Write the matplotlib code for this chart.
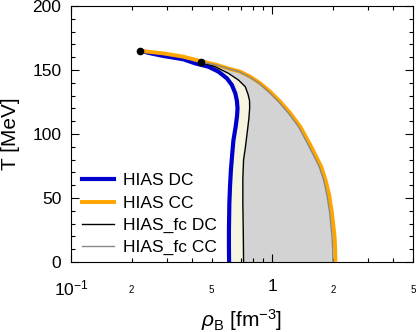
import numpy as np
import matplotlib
matplotlib.use('Agg')
import matplotlib.pyplot as plt
from matplotlib.ticker import FixedLocator, NullFormatter, MultipleLocator

plt.rcParams['font.family'] = ['Liberation Sans', 'DejaVu Sans']
plt.rcParams['mathtext.fontset'] = 'custom'
plt.rcParams['mathtext.rm'] = 'Liberation Sans'
plt.rcParams['mathtext.it'] = 'Liberation Sans:italic'

# HIAS DC (blue)
T_dc = [0, 12, 25, 46, 60, 72, 84, 95, 106, 114, 120, 126, 131.8, 138.3, 143.5, 148.7, 152.6, 155.2, 158.4, 161, 163, 165]
rho_dc = [0.61, 0.609, 0.609, 0.612, 0.617, 0.623, 0.632, 0.641, 0.658, 0.668, 0.672, 0.667, 0.655, 0.630,
          0.595, 0.541, 0.482, 0.414, 0.362, 0.288, 0.25, 0.221]
# HIAS CC (orange)
T_cc = [0, 10, 20, 38, 52, 64, 74.5, 83.6, 91.4, 105.7, 116.2, 125.2, 133.0, 139.6, 144.8, 148.7, 150.8,
        154, 157, 160.5, 163, 165]
rho_cc = [2.06, 2.055, 2.04, 1.98, 1.92, 1.84, 1.75, 1.637, 1.545, 1.378, 1.229, 1.096, 0.977, 0.872, 0.777,
          0.693, 0.618, 0.53, 0.44, 0.36, 0.288, 0.221]
# HIAS_fc DC (black)
T_fdc = [0, 20, 46, 65, 80, 88.8, 97, 104.5, 112, 120, 126, 131, 137, 142.2, 147.4, 152.6, 156]
rho_fdc = [0.72, 0.718, 0.714, 0.714, 0.72, 0.734, 0.745, 0.755, 0.765, 0.772, 0.771, 0.758, 0.734, 0.679,
           0.606, 0.52, 0.44]
# HIAS_fc CC (gray)
T_fcc = [0, 10, 20, 38, 52, 64, 74.5, 83.6, 91.4, 105.7, 116.2, 125.2, 133.0, 139.6, 144.8, 148.7, 150.8, 154, 156]
rho_fcc = [2.00, 1.995, 1.98, 1.93, 1.87, 1.80, 1.71, 1.60, 1.51, 1.35, 1.205, 1.075, 0.96, 0.86, 0.765,
           0.685, 0.612, 0.525, 0.445]
# critical end points
rho_pts = [0.221, 0.44]
T_pts = [165, 156.5]

fig = plt.figure(figsize=(4.16, 3.32), dpi=100)
ax = fig.add_axes([0.1707, 0.2108, 0.822, 0.771])

# filled regions
n = sum(1 for t in T_dc if t <= 155.2)
ax.fill(rho_dc[:n] + rho_fdc[::-1], T_dc[:n] + T_fdc[::-1], color='#f5f5e0', lw=0, zorder=1)
ax.fill(rho_fdc + rho_fcc[::-1], T_fdc + T_fcc[::-1], color='#d3d3d3', lw=0, zorder=1)

ax.plot(rho_dc, T_dc, color='#0000cc', lw=3.0, label='HIAS DC', zorder=3)
ax.plot(rho_cc, T_cc, color='#ffa500', lw=2.8, label='HIAS CC', zorder=3)
ax.plot(rho_fdc, T_fdc, color='black', lw=1.0, label='HIAS_fc DC', zorder=4)
ax.plot(rho_fcc, T_fcc, color='#888888', lw=1.0, label='HIAS_fc CC', zorder=4)
ax.plot(rho_pts, T_pts, 'o', color='black', ms=4.5, zorder=5)

ax.set_xscale('log')
ax.set_xlim(0.1, 5)
ax.set_ylim(0, 200)

ax.xaxis.set_major_locator(FixedLocator([0.1, 1]))
ax.set_xticklabels(['$10^{-1}$', '1'], fontsize=12.5)
ax.xaxis.set_minor_locator(FixedLocator([0.2, 0.3, 0.4, 0.5, 0.6, 0.7, 0.8, 0.9, 2, 3, 4, 5]))
ax.xaxis.set_minor_formatter(NullFormatter())
for v, s in [(0.2, '2'), (0.5, '5'), (2, '2'), (5, '5')]:
    ax.text(v, -18, s, fontsize=7, ha='center', va='top', clip_on=False)

ax.yaxis.set_major_locator(MultipleLocator(50))
ax.yaxis.set_minor_locator(MultipleLocator(10))
ax.tick_params(which='both', direction='in', top=True, right=True)
ax.tick_params(which='major', length=5.5, width=0.8, labelsize=12.5)
ax.tick_params(which='minor', length=3, width=0.8)
ax.tick_params(axis='x', which='major', pad=12)
ax.tick_params(axis='y', which='major', pad=7)

ax.set_xlabel(r'$\rho_{\rm B}$ [fm$^{-3}$]', fontsize=15)
ax.set_ylabel('T [MeV]', fontsize=15)
ax.xaxis.set_label_coords(0.5, -0.175)
ax.yaxis.set_label_coords(-0.15, 0.5)

ax.legend(loc='lower left', bbox_to_anchor=(0.011, 0.0), frameon=False, fontsize=12.5,
          handlelength=1.85, handletextpad=0.5, labelspacing=0.4, borderaxespad=0.0)

plt.savefig('out.png', dpi=100)
plt.close()
